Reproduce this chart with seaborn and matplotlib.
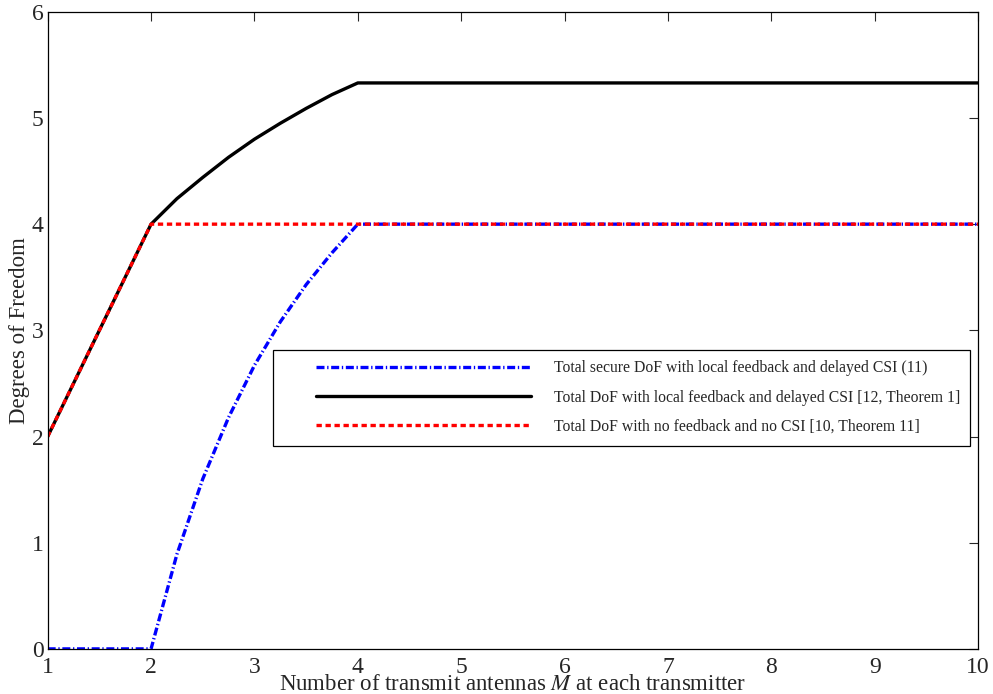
import matplotlib
matplotlib.use('Agg')
import matplotlib.pyplot as plt
from matplotlib.lines import Line2D
from matplotlib.legend_handler import HandlerLine2D
import seaborn as sns

# data
m_secure = [1, 2, 2.25, 2.5, 2.75, 3, 3.25, 3.5, 3.75, 4, 10]
dof_secure = [0, 0, 0.89, 1.6, 2.18, 2.67, 3.08, 3.43, 3.73, 4, 4]
m_local = [1, 2, 2.25, 2.5, 2.75, 3, 3.25, 3.5, 3.75, 4, 10]
dof_local = [2, 4, 4.24, 4.44, 4.63, 4.8, 4.95, 5.09, 5.22, 5.33, 5.33]
m_nocsi = [1, 2, 10]
dof_nocsi = [2, 4, 4]

labels = ['Total secure DoF with local feedback and delayed CSI (11)',
          'Total DoF with local feedback and delayed CSI [12, Theorem 1]',
          'Total DoF with no feedback and no CSI [10, Theorem 11]']

sns.set_style('white')
plt.rcParams['font.family'] = ['Liberation Serif', 'DejaVu Serif']
plt.rcParams['mathtext.fontset'] = 'stix'

fig = plt.figure(figsize=(9.93, 6.94), dpi=100)
ax = fig.add_axes([0.048, 0.065, 0.937, 0.918])

sns.lineplot(x=m_local, y=dof_local, ax=ax, color='black', linewidth=2.4,
             label=labels[1], estimator=None, sort=False)
sns.lineplot(x=m_secure, y=dof_secure, ax=ax, color='blue', linewidth=2.4,
             linestyle=(0, (2.4, 0.8, 0.4, 0.8)), label=labels[0], estimator=None, sort=False)
sns.lineplot(x=m_nocsi, y=dof_nocsi, ax=ax, color='red', linewidth=2.4,
             linestyle=(0, (1.6, 1.1)), label=labels[2], estimator=None, sort=False)

ax.set_xlim(1, 10)
ax.set_ylim(0, 6)
ax.set_xticks(range(1, 11))
ax.set_yticks(range(0, 7))
ax.tick_params(direction='in', length=6.5, width=0.8, labelsize=17, top=True, right=True)
ax.tick_params(axis='x', pad=6)
ax.tick_params(axis='y', pad=3)
for s in ax.spines.values():
    s.set_color('black')
    s.set_linewidth(0.9)

ax.set_xlabel('Number of transmit antennas $M$ at each transmitter', fontsize=16.5, labelpad=-3)
ax.set_ylabel('Degrees of Freedom', fontsize=16.5, labelpad=1)

handles, lbls = ax.get_legend_handles_labels()
order = [1, 0, 2]
leg = ax.legend([handles[i] for i in order], [lbls[i] for i in order],
                loc='lower left', bbox_to_anchor=(0.242, 0.319, 0.749, 0.15), mode='expand',
                fontsize=11.3, handlelength=15.8, handletextpad=1.46, borderpad=0.68,
                labelspacing=0.85, fancybox=False, edgecolor='black', framealpha=1, borderaxespad=0,
                handler_map={Line2D: HandlerLine2D(xpad=2.05)})
leg.get_frame().set_linewidth(0.9)

fig.savefig('out.png', dpi=100)
